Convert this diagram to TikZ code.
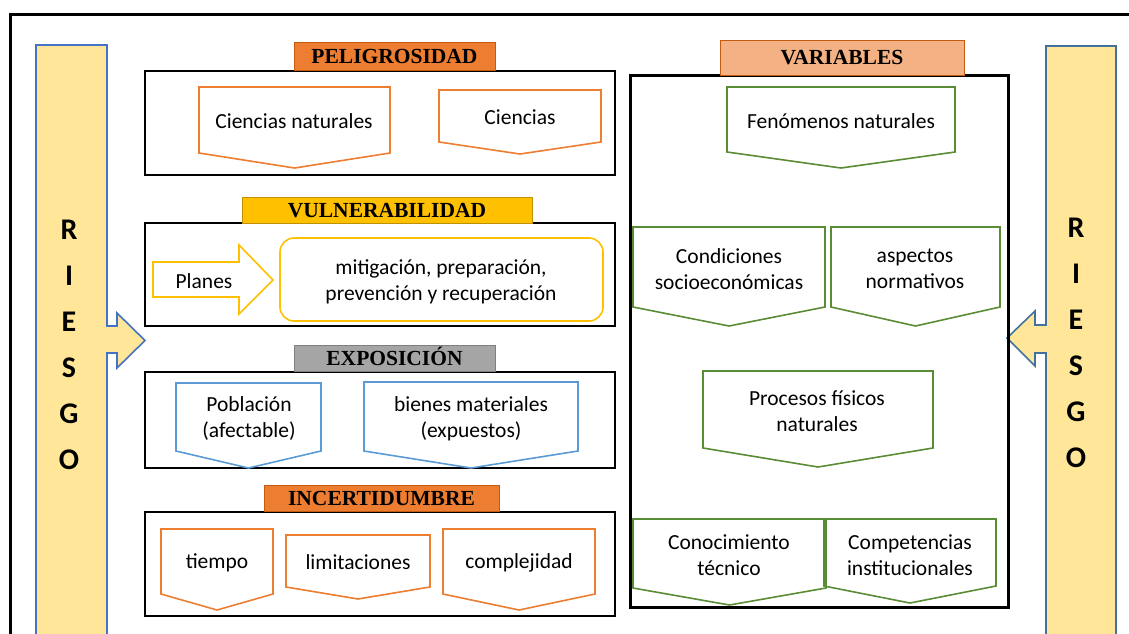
\documentclass[tikz,border=0pt]{standalone}
\usepackage{fontspec}
\setmainfont{Carlito}
\newfontfamily\titlefont{Liberation Serif}
\usepackage{tikz}
\definecolor{Naranja}{HTML}{ED7D31}
\definecolor{NaranjaOsc}{HTML}{C55A11}
\definecolor{Oro}{HTML}{FFC000}
\definecolor{OroOsc}{HTML}{BF9000}
\definecolor{Gris}{HTML}{A5A5A5}
\definecolor{GrisOsc}{HTML}{7F7F7F}
\definecolor{Salmon}{HTML}{F4B183}
\definecolor{Crema}{HTML}{FFE699}
\definecolor{Azul}{HTML}{4472C4}
\definecolor{AzulAcero}{HTML}{41719C}
\definecolor{Celeste}{HTML}{5B9BD5}
\definecolor{Verde}{HTML}{5A8C36}

\begin{document}
\begin{tikzpicture}[x=1pt, y=-1pt,
  caja/.style={draw=black, line width=2pt},
  titulo/.style={draw, line width=1pt, inner sep=0pt, text height=14pt, text depth=0pt,
    font=\titlefont\bfseries\fontsize{21.5}{24}\selectfont},
  texto/.style={align=center, inner sep=0pt, font=\fontsize{21.5}{26}\selectfont},
  letra/.style={inner sep=0pt, font=\bfseries\fontsize{30}{31}\selectfont},
  flecha/.style={line width=1.6pt, line join=miter}
]
\useasboundingbox (0,0) rectangle (1129,633);
\clip (0,0) rectangle (1129,633);

% marco
\draw[line width=3pt] (10,640) -- (10,14) -- (1135,14);

% barras RIESGO
\draw[flecha, fill=Crema, draw=Azul] (36,640) -- (36,45) -- (107,45) -- (107,326) -- (117,326)
  -- (117,313) -- (145,340.5) -- (117,368) -- (117,353) -- (107,353) -- (107,640);
\draw[flecha, fill=Crema, draw=AzulAcero] (1116,640) -- (1116,46) -- (1046,46) -- (1046,325) -- (1035,325)
  -- (1035,311) -- (1007,338) -- (1035,366) -- (1035,353) -- (1046,353) -- (1046,640);
\foreach \l [count=\i] in {R,I,E,S,G,O}
{
  \node[letra] (rizq-\i) at (69,{230+46*(\i-1)}) {\l};
  \node[letra] (rder-\i) at (1076,{228+46*(\i-1)}) {\l};
}

% cajas
\draw[caja] (145,71) rectangle (615,175);
\draw[caja] (145,223) rectangle (615,326);
\draw[caja] (145,372) rectangle (615,468);
\draw[caja] (145,512) rectangle (615,616);
\draw[caja, line width=3pt] (630,75) rectangle (1008,607);

% titulos
\node[titulo, fill=Naranja, draw=NaranjaOsc, minimum width=201, minimum height=28] (peli) at (394.5,56) {PELIGROSIDAD};
\node[titulo, fill=Oro, draw=OroOsc, minimum width=290, minimum height=26] (vuln) at (387,210) {VULNERABILIDAD};
\node[titulo, fill=Gris, draw=GrisOsc, minimum width=201, minimum height=26] (expo) at (394.5,358) {EXPOSICIÓN};
\node[titulo, fill=Naranja, draw=NaranjaOsc, minimum width=235, minimum height=26] (incert) at (381.5,498) {INCERTIDUMBRE};
\node[titulo, fill=Salmon, draw=NaranjaOsc, minimum width=244, minimum height=35] (vars) at (842,57.5) {VARIABLES};

% pentagonos
\foreach \xa/\ya/\xb/\ys/\yt in {199/87/390/153/168, 439/90/601/142/154, 161/529/273/594/610,
  286/535/430/587/599, 443/529/595/594/610}
  \draw[flecha, Naranja] (\xa,\ya) -- (\xb,\ya) -- (\xb,\ys) -- ({(\xa+\xb)/2},\yt) -- (\xa,\ys) -- cycle;
\foreach \xa/\ya/\xb/\ys/\yt in {176/383/321/451/468, 364/382/578/451/468}
  \draw[flecha, Celeste] (\xa,\ya) -- (\xb,\ya) -- (\xb,\ys) -- ({(\xa+\xb)/2},\yt) -- (\xa,\ys) -- cycle;
\foreach \xa/\ya/\xb/\ys/\yt in {727/87/955/152/168, 633/227/825/307/326, 831/227/1000/307/326,
  703/371/933/448/467, 633/519/826/588/605, 824/519/996/586/603}
  \draw[flecha, Verde] (\xa,\ya) -- (\xb,\ya) -- (\xb,\ys) -- ({(\xa+\xb)/2},\yt) -- (\xa,\ys) -- cycle;

% vulnerabilidad
\draw[flecha, Oro] (153,262) -- (239,262) -- (239,245) -- (273,280) -- (239,314) -- (239,297) -- (153,297) -- cycle;
\draw[flecha, Oro, rounded corners=14] (280,238) rectangle (603,321);

% textos
\node[texto] (cnat) at (294,121) {Ciencias naturales};
\node[texto] (cienc) at (520,117) {Ciencias};
\node[texto] (planes) at (204,281) {Planes};
\node[texto] (mitig) at (441,282) {mitigación, preparación,\\prevención y recuperación};
\node[texto] (pobl) at (249,419) {Población\\(afectable)};
\node[texto] (bienes) at (471,419) {bienes materiales\\(expuestos)};
\node[texto] (tiempo) at (217,563) {tiempo};
\node[texto] (limit) at (358,562) {limitaciones};
\node[texto] (compl) at (519,563) {complejidad};
\node[texto] (fenom) at (841,121) {Fenómenos naturales};
\node[texto] (condic) at (729,269) {Condiciones\\socioeconómicas};
\node[texto] (aspect) at (915,269) {aspectos\\normativos};
\node[texto] (proces) at (817,411) {Procesos físicos\\naturales};
\node[texto] (conoc) at (729,555) {Conocimiento\\técnico};
\node[texto] (compet) at (910,555) {Competencias\\institucionales};
\end{tikzpicture}
\end{document}
